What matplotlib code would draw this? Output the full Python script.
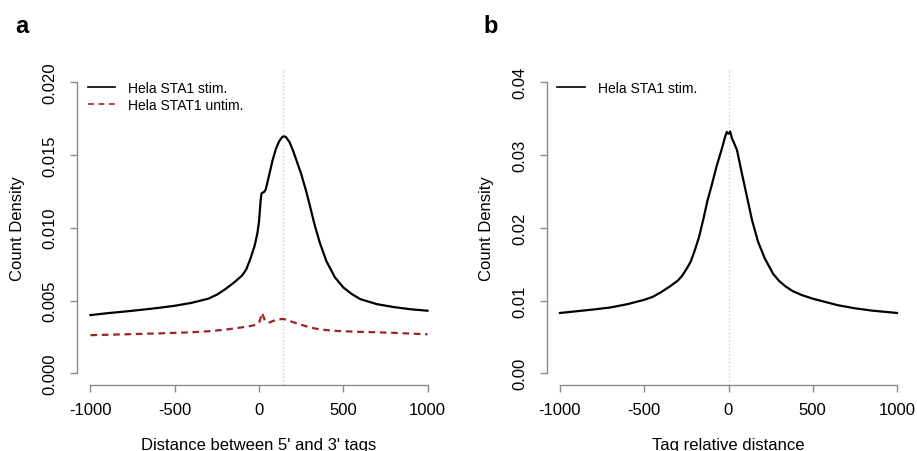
import matplotlib
matplotlib.use('Agg')
import matplotlib.pyplot as plt

plt.rcParams['font.family'] = ['Liberation Sans', 'DejaVu Sans']

# panel a: distance between 5' and 3' tags
dist_a = [-1000, -900, -800, -700, -600, -500, -400, -300, -250, -200, -150, -100, -75, -50, -25, -10,
          0, 10, 15, 20, 30, 40, 50, 60, 80, 100, 120, 140, 150, 160, 180, 200, 220, 250, 280, 300,
          330, 360, 400, 450, 500, 550, 600, 700, 800, 900, 1000]
stim_a = [0.00400, 0.00413, 0.00424, 0.00436, 0.00449, 0.00464, 0.00484, 0.00513, 0.00540, 0.00578,
          0.00622, 0.00672, 0.00715, 0.00790, 0.00880, 0.00960, 0.01040, 0.01190, 0.01235, 0.01240,
          0.01245, 0.01262, 0.01312, 0.01360, 0.01460, 0.01540, 0.01595, 0.01625, 0.01627, 0.01622,
          0.01590, 0.01535, 0.01470, 0.01370, 0.01250, 0.01160, 0.01020, 0.00900, 0.00770, 0.00660,
          0.00590, 0.00545, 0.00510, 0.00475, 0.00455, 0.00440, 0.00430]

dist_unstim = [-1000, -800, -600, -400, -300, -200, -100, -50, -20, 0, 10, 17, 25, 35, 50, 65, 80, 100,
               120, 145, 170, 200, 250, 300, 350, 400, 450, 500, 600, 700, 800, 900, 1000]
unstim_a = [0.00262, 0.00268, 0.00274, 0.00282, 0.00289, 0.00300, 0.00316, 0.00325, 0.00333, 0.00345,
            0.00380, 0.00415, 0.00395, 0.00362, 0.00350, 0.00350, 0.00358, 0.00366, 0.00371, 0.00373,
            0.00366, 0.00352, 0.00334, 0.00316, 0.00304, 0.00297, 0.00292, 0.00289, 0.00285, 0.00282,
            0.00278, 0.00273, 0.00268]
peak_a = 145

# panel b: tag relative distance
dist_b = [-1000, -900, -800, -700, -600, -500, -450, -400, -350, -300, -275, -250, -225, -200, -175,
          -150, -125, -100, -70, -40, -20, -10, -5, 0, 5, 10, 20, 50, 80, 110, 140, 175, 215, 265,
          300, 335, 380, 435, 500, 575, 650, 750, 850, 1000]
stim_b = [0.00829, 0.00853, 0.00877, 0.00905, 0.00950, 0.01010, 0.01050, 0.01115, 0.01190, 0.01275,
          0.01340, 0.01430, 0.01530, 0.01690, 0.01870, 0.02110, 0.02370, 0.02580, 0.02850, 0.03080,
          0.03250, 0.03315, 0.03300, 0.03290, 0.03300, 0.03320, 0.03230, 0.03070, 0.02740, 0.02420,
          0.02100, 0.01810, 0.01580, 0.01365, 0.01270, 0.01200, 0.01130, 0.01075, 0.01025, 0.00980,
          0.00935, 0.00893, 0.00862, 0.00829]

xticks = [-1000, -500, 0, 500, 1000]
yticks_a = [0.000, 0.005, 0.010, 0.015, 0.020]
ytick_labels_a = ['0.000', '0.005', '0.010', '0.015', '0.020']
yticks_b = [0.00, 0.01, 0.02, 0.03, 0.04]
ytick_labels_b = ['0.00', '0.01', '0.02', '0.03', '0.04']

red = '#9e2424'
axis_grey = '#8a8a8a'

fig = plt.figure(figsize=(9.17, 4.52), dpi=100)
ax1 = fig.add_axes([77 / 917, 66 / 452, 364 / 917, 314.6 / 452])
ax2 = fig.add_axes([546.5 / 917, 66 / 452, 364 / 917, 314.6 / 452])


def r_style(ax, yticks, ylabels, ymax):
    # mimic base R axes: 4% padding, detached axis lines
    ax.set_xlim(-1080, 1080)
    ax.set_ylim(-0.04 * ymax, 1.04 * ymax)
    for s in ['top', 'right']:
        ax.spines[s].set_visible(False)
    ax.spines['bottom'].set_bounds(-1000, 1000)
    ax.spines['left'].set_bounds(0, ymax)
    for s in ['bottom', 'left']:
        ax.spines[s].set_color(axis_grey)
        ax.spines[s].set_linewidth(1.0)
    ax.set_xticks(xticks)
    ax.set_xticklabels([str(t) for t in xticks])
    ax.set_yticks(yticks)
    ax.set_yticklabels(ylabels)
    ax.tick_params(axis='both', direction='out', length=5, width=1.0, color=axis_grey,
                   labelsize=12, labelcolor='black')
    ax.tick_params(axis='x', pad=7)
    ax.tick_params(axis='y', labelrotation=90, pad=9)
    for lab in ax.get_yticklabels():
        lab.set_va('center')
    ax.set_ylabel('Count Density', fontsize=12)
    ax.yaxis.set_label_coords(-0.143, 0.5)
    ax.patch.set_visible(False)


# panel a
ax1.axvline(peak_a, color='#d0d0d0', linestyle=':', linewidth=1.0, zorder=1)
ax1.plot(dist_a, stim_a, color='black', linewidth=1.6, label='Hela STA1 stim.')
ax1.plot(dist_unstim, unstim_a, color=red, linewidth=1.6, dashes=(3, 2.1), label='Hela STAT1 untim.')
r_style(ax1, yticks_a, ytick_labels_a, 0.020)
ax1.set_xlabel("Distance between 5' and 3' tags", fontsize=12)
ax1.xaxis.set_label_coords(0.5, -0.165)
leg1 = ax1.legend(loc='upper left', bbox_to_anchor=(0.03, 0.966), frameon=False, fontsize=10,
                  borderpad=0, borderaxespad=0, handlelength=1.95, handletextpad=0.95, labelspacing=0.22)
for ln in leg1.get_lines():
    ln.set_linewidth(1.2)
leg1.get_lines()[1].set_dashes((3.5, 2.8))

# panel b
ax2.axvline(0, color='#d0d0d0', linestyle=':', linewidth=1.0, zorder=1)
ax2.plot(dist_b, stim_b, color='black', linewidth=1.6, label='Hela STA1 stim.')
r_style(ax2, yticks_b, ytick_labels_b, 0.04)
ax2.set_xlabel('Tag relative distance', fontsize=12)
ax2.xaxis.set_label_coords(0.5, -0.165)
leg2 = ax2.legend(loc='upper left', bbox_to_anchor=(0.03, 0.966), frameon=False, fontsize=10,
                  borderpad=0, borderaxespad=0, handlelength=1.95, handletextpad=0.95)
for ln in leg2.get_lines():
    ln.set_linewidth(1.2)

fig.text(15 / 917, 1 - 33 / 452, 'a', fontsize=17, fontweight='bold', va='baseline')
fig.text(483 / 917, 1 - 33 / 452, 'b', fontsize=17, fontweight='bold', va='baseline')

fig.savefig('out.png', dpi=100)
